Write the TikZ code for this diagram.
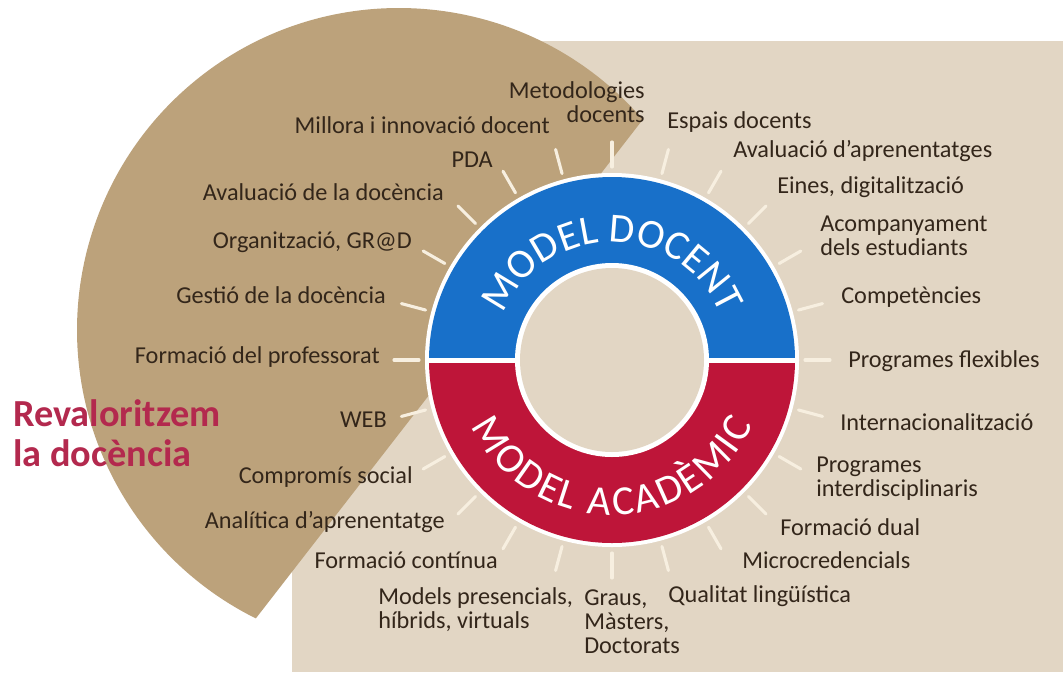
\documentclass[tikz,border=0pt]{standalone}
\usepackage{fontspec}
\setmainfont{Carlito}
\usetikzlibrary{decorations.text}
\definecolor{tanc}{HTML}{BCA27B}
\definecolor{beige}{HTML}{E2D6C4}
\definecolor{mblue}{HTML}{1870C9}
\definecolor{mred}{HTML}{BE1539}
\definecolor{txt}{HTML}{33261A}
\definecolor{crim}{HTML}{B3294E}
\definecolor{raycol}{HTML}{F7EFE0}
\newcommand\ringfont{\fontsize{31}{31}\selectfont}
\begin{document}
\begin{tikzpicture}[x=0.75pt,y=0.75pt,
  lbl/.style={font=\fontsize{18.2}{18}\selectfont, text=txt, inner sep=0pt},
  lblL/.style={lbl, anchor=base east},
  lblR/.style={lbl, anchor=base west},
  lblLm/.style={lbl, anchor=east, align=right},
  lblRm/.style={lbl, anchor=west, align=left},
  ray/.style={draw=raycol, line width=2.3pt, line cap=round}]
\useasboundingbox (0,0) rectangle (1063,-672);
\fill[white] (0,0) rectangle (1063,-672);
\fill[beige] (292,-41) rectangle (1063,-672);
\fill[tanc] (399,-330) ++(40.8:322) arc[start angle=40.8, end angle=243.6, radius=322] -- cycle;

\begin{scope}[shift={(612,-360)}]
  \foreach \a in {0,15,...,345} \draw[ray] (\a:193) -- (\a:218);
  \fill[white] (0,0) circle (187);
  \begin{scope}
    \clip (-190,3) rectangle (190,190);
    \fill[mblue] (0,0) circle (183);
  \end{scope}
  \begin{scope}
    \clip (-190,-3) rectangle (190,-190);
    \fill[mred] (0,0) circle (183);
  \end{scope}
  \fill[white] (0,0) circle (97);
  \fill[beige] (0,0) circle (92);
  \path[decorate, decoration={text along path, text={|\ringfont|MODEL DOCENT},
      text align=center, text color=white}]
    (162:118) arc[start angle=162, end angle=18, radius=118];
  \path[decorate, decoration={text along path, text={|\ringfont|MODEL ACADÈMIC},
      text align=fit to path, text color=white}]
    (205:155) arc[start angle=205, end angle=335, radius=155];
\end{scope}

% left labels
\node[lblLm] (metod) at (645,-102) {Metodologies\\docents};
\node[lblL] (millora) at (550,-133) {Millora i innovació docent};
\node[lblL] (pda) at (493,-167) {PDA};
\node[lblL] (avaldoc) at (444,-200) {Avaluació de la docència};
\node[lblL] (organ) at (412,-248) {Organització, GR@D};
\node[lblL] (gestio) at (386,-303) {Gestió de la docència};
\node[lblL] (formprof) at (380,-363) {Formació del professorat};
\node[lblL] (web) at (387,-427) {WEB};
\node[lblL] (compromis) at (413,-483) {Compromís social};
\node[lblL] (analitica) at (445,-528) {Analítica d’aprenentatge};
\node[lblL] (formcont) at (498,-568) {Formació contínua};
\node[lblRm] (models) at (378,-610) {Models presencials,\\híbrids, virtuals};
\node[lblRm] (graus) at (584,-622) {Graus,\\Màsters,\\Doctorats};

% right labels
\node[lblR] (espais) at (667,-128) {Espais docents};
\node[lblR] (avalapr) at (733,-157) {Avaluació d’aprenentatges};
\node[lblR] (eines) at (777,-193) {Eines, digitalització};
\node[lblRm] (acomp) at (820,-236) {Acompanyament\\dels estudiants};
\node[lblR] (comp) at (841,-303) {Competències};
\node[lblR] (progflex) at (848,-367) {Programes flexibles};
\node[lblR] (intern) at (840,-430) {Internacionalització};
\node[lblRm] (progint) at (816,-479) {Programes\\interdisciplinaris};
\node[lblR] (dual) at (780,-535) {Formació dual};
\node[lblR] (micro) at (742,-568) {Microcredencials};
\node[lblR] (qualitat) at (668,-602) {Qualitat lingüística};

% title
\node[anchor=west, align=left, inner sep=0pt, text=crim,
  font=\fontsize{28.7}{30}\selectfont\bfseries] (title) at (13,-433) {Revaloritzem\\la docència};
\end{tikzpicture}
\end{document}
